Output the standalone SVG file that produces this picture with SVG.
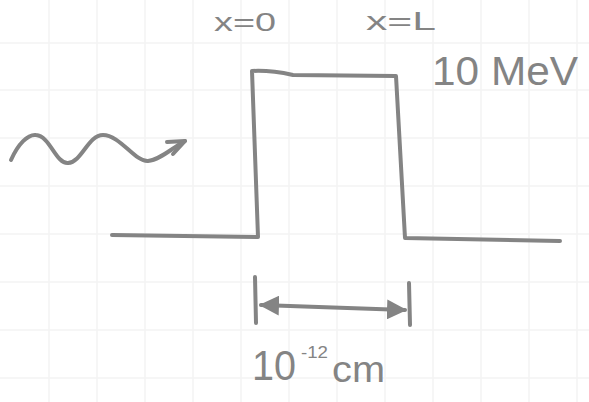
<svg xmlns="http://www.w3.org/2000/svg" width="589" height="402" viewBox="0 0 589 402">
<style>
.grid{stroke:#f3f3f3;stroke-width:1.5}
.ink{fill:none;stroke:#848484;stroke-width:4;stroke-linecap:round;stroke-linejoin:round}
.txt{font-family:"Liberation Sans",Arial,sans-serif;fill:#848484}
</style>
<defs>
<marker id="head" viewBox="0 0 10 10" refX="9" refY="5" markerWidth="5" markerHeight="5" orient="auto-start-reverse" markerUnits="strokeWidth">
<path d="M0,0 L10,5 L0,10 Z" fill="#848484"/>
</marker>
</defs>
<rect width="589" height="402" fill="#ffffff"/>
<g id="grid" class="grid">
<path d="M49,0V402M97,0V402M145,0V402M193,0V402M241,0V402M289,0V402M337,0V402M385,0V402M433,0V402M481,0V402M529,0V402M577,0V402"/>
<path d="M0,43H589M0,90H589M0,138H589M0,186H589M0,234H589M0,282H589M0,330H589M0,378H589"/>
</g>
<g id="barrier">
<path class="ink" d="M112,235 L258,237 L252,71 Q270,70 293,75 L396,76 L405,238 L560,241"/>
</g>
<g id="wave">
<path class="ink" d="M11,160 C18,144 28,134 36,135 C50,136 56,164 68,163 C82,162 88,135 103,135 C120,135 135,162 148,161 C160,160 172,148 185,141"/>
<path class="ink" d="M167,142 L185,141 L173,154"/>
</g>
<g id="connectors">
<path class="ink" d="M255,277 L256,323"/>
<path class="ink" d="M409,283 L410,325"/>
<path class="ink" d="M261,305 L405,310" marker-start="url(#head)" marker-end="url(#head)"/>
</g>
<g id="labels">
<text class="txt" x="214" y="31" font-size="26" textLength="62" lengthAdjust="spacingAndGlyphs">x=0</text>
<text class="txt" x="366" y="30" font-size="26" textLength="70" lengthAdjust="spacingAndGlyphs">x=L</text>
<text class="txt" x="432" y="85" font-size="40" textLength="146" lengthAdjust="spacingAndGlyphs">10 MeV</text>
<text class="txt" font-size="42"><tspan x="252" y="380" textLength="44" lengthAdjust="spacingAndGlyphs">10</tspan><tspan x="301" y="358" font-size="17" textLength="27" lengthAdjust="spacingAndGlyphs">-12</tspan><tspan x="332" y="382" font-size="36" textLength="53" lengthAdjust="spacingAndGlyphs">cm</tspan></text>
</g>
</svg>
